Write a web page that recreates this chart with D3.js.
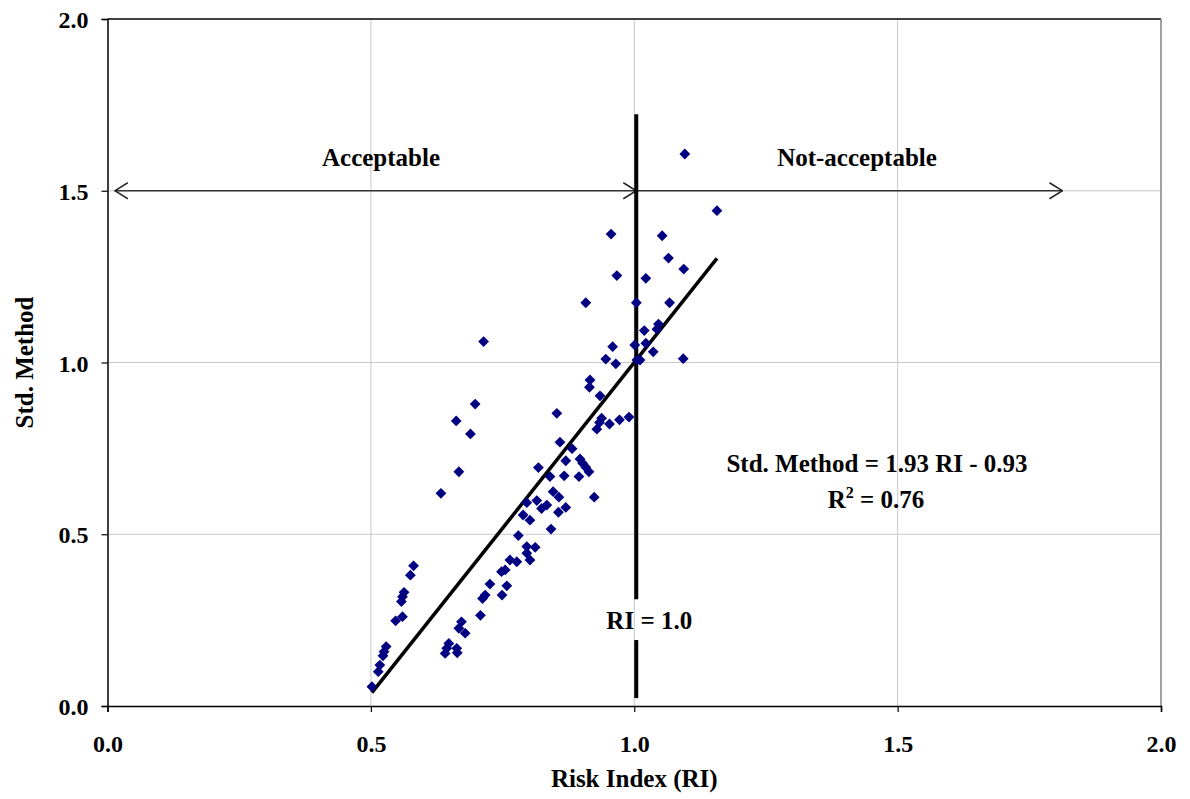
<!DOCTYPE html>
<html>
<head>
<meta charset="utf-8">
<script src="https://cdn.jsdelivr.net/npm/d3@7"></script>
<style>
    body { margin: 0; background: #fff; }
    svg text { font-family: "Liberation Serif", "Times New Roman", serif; font-weight: bold; fill: #000; }
</style>
</head>
<body>
<div id="chart"></div>
<script>
// Risk index (x) vs standard method (y)
const riValues = [
    0.502, 0.514, 0.517, 0.523, 0.525, 0.529, 0.547, 0.560, 0.558, 0.560, 0.563, 0.575, 0.581,
    0.633, 0.667, 0.662, 0.689, 0.698, 0.714,
    0.641, 0.644, 0.648, 0.663, 0.664, 0.667, 0.672, 0.679, 0.708, 0.712, 0.717, 0.726,
    0.749, 0.758, 0.748, 0.755, 0.764, 0.777, 0.780, 0.796, 0.796, 0.802, 0.812, 0.789,
    0.802, 0.796, 0.815, 0.824, 0.834, 0.818, 0.842, 0.840, 0.846, 0.857, 0.856, 0.870,
    0.867, 0.870, 0.859, 0.882, 0.853, 0.895, 0.897, 0.902, 0.908, 0.914, 0.924, 0.929,
    0.934, 0.938, 0.935, 0.915, 0.916, 0.953, 0.972, 0.990,
    0.908, 0.946, 0.965, 0.959, 0.956, 0.967, 1.001, 1.005, 1.011, 1.004, 1.019, 1.022,
    1.022, 1.036, 1.043, 1.046, 1.053, 1.065, 1.067, 1.093, 1.094, 1.096, 1.157
];
const stdValues = [
    0.056, 0.100, 0.119, 0.146, 0.158, 0.173, 0.248, 0.260, 0.304, 0.318, 0.331, 0.381, 0.408,
    0.619, 0.682, 0.830, 0.792, 0.879, 1.061,
    0.153, 0.168, 0.182, 0.168, 0.155, 0.226, 0.245, 0.212, 0.264, 0.313, 0.323, 0.355,
    0.323, 0.350, 0.391, 0.396, 0.425, 0.420, 0.496, 0.445, 0.464, 0.425, 0.462, 0.556,
    0.541, 0.592, 0.598, 0.575, 0.585, 0.694, 0.515, 0.668, 0.624, 0.608, 0.564, 0.578,
    0.670, 0.714, 0.768, 0.749, 0.852, 0.668, 0.719, 0.707, 0.695, 0.682, 0.608, 0.806,
    0.825, 0.838, 0.903, 0.928, 0.949, 0.821, 0.833, 0.841,
    1.174, 1.010, 0.996, 1.046, 1.374, 1.253, 1.051, 1.007, 1.007, 1.174, 1.093, 1.056,
    1.245, 1.031, 1.097, 1.112, 1.369, 1.304, 1.174, 1.011, 1.272, 1.607, 1.442
];

const xTicks = [0, 0.5, 1.0, 1.5, 2.0];
const yTicks = [0, 0.5, 1.0, 1.5, 2.0];

// regression: Std. Method = 1.93 RI - 0.93
const slope = 1.93, intercept = -0.93;
const refRI = 1.0;
const refTop = 1.723, gapTop = 0.311, gapBottom = 0.192, refBottom = 0.023;
const arrowY = 1.5, arrowLeft = 0.014, arrowRight = 1.813;

const width = 1190, height = 799;
const margin = {top: 19, right: 29, bottom: 93, left: 107.5};
const fontSize = 25;

const svg = d3.select("#chart").append("svg")
    .attr("width", width)
    .attr("height", height);

const x = d3.scaleLinear().domain([0, 2]).range([margin.left, width - margin.right]);
const y = d3.scaleLinear().domain([0, 2]).range([height - margin.bottom, margin.top]);

// grid
svg.append("g")
    .selectAll("line")
    .data(xTicks.slice(1, -1))
    .join("line")
    .attr("x1", d => x(d)).attr("x2", d => x(d))
    .attr("y1", y(0)).attr("y2", y(2))
    .attr("stroke", "#c8c8c8").attr("stroke-width", 1);
svg.append("g")
    .selectAll("line")
    .data(yTicks.slice(1, -1))
    .join("line")
    .attr("x1", x(0)).attr("x2", x(2))
    .attr("y1", d => y(d)).attr("y2", d => y(d))
    .attr("stroke", "#c8c8c8").attr("stroke-width", 1);

// plot border top / right
svg.append("line")
    .attr("x1", x(0)).attr("x2", x(2)).attr("y1", y(2)).attr("y2", y(2))
    .attr("stroke", "#000").attr("stroke-width", 1.5);
svg.append("line")
    .attr("x1", x(2)).attr("x2", x(2)).attr("y1", y(2)).attr("y2", y(0))
    .attr("stroke", "#808080").attr("stroke-width", 1.5);

// axes
const xAxis = svg.append("g")
    .attr("transform", `translate(0,${y(0)})`)
    .call(d3.axisBottom(x).tickValues(xTicks).tickFormat(d3.format(".1f")).tickSize(6).tickPadding(23));
const yAxis = svg.append("g")
    .attr("transform", `translate(${x(0)},0)`)
    .call(d3.axisLeft(y).tickValues(yTicks).tickFormat(d3.format(".1f")).tickSize(6).tickPadding(13));
[xAxis, yAxis].forEach(g => {
    g.select(".domain").attr("stroke", "#000").attr("stroke-width", 1.5);
    g.selectAll(".tick line").attr("stroke", "#000").attr("stroke-width", 1.2);
    g.selectAll(".tick text")
        .attr("font-family", "Liberation Serif, Times New Roman, serif")
        .attr("font-size", 24).attr("font-weight", "bold").attr("fill", "#000");
});
yAxis.selectAll(".tick text").attr("dy", "0.36em");

// axis titles
svg.append("text")
    .attr("x", (x(0) + x(2)) / 2)
    .attr("y", 787)
    .attr("text-anchor", "middle")
    .attr("font-size", fontSize)
    .text("Risk Index (RI)");
svg.append("text")
    .attr("transform", `translate(33,${(y(0) + y(2)) / 2}) rotate(-90)`)
    .attr("text-anchor", "middle")
    .attr("font-size", fontSize)
    .text("Std. Method");

// arrow markers
const defs = svg.append("defs");
defs.append("marker")
    .attr("id", "openArrow")
    .attr("viewBox", "0 0 14 18")
    .attr("refX", 13).attr("refY", 9)
    .attr("markerWidth", 14).attr("markerHeight", 18)
    .attr("markerUnits", "userSpaceOnUse")
    .attr("orient", "auto-start-reverse")
    .append("path")
    .attr("d", "M0,1 L13,9 L0,17")
    .attr("fill", "none")
    .attr("stroke", "#222")
    .attr("stroke-width", 1.5);

svg.append("line")
    .attr("x1", x(arrowLeft)).attr("x2", x(refRI) + 2)
    .attr("y1", y(arrowY)).attr("y2", y(arrowY))
    .attr("stroke", "#333").attr("stroke-width", 1.6)
    .attr("marker-start", "url(#openArrow)")
    .attr("marker-end", "url(#openArrow)");
svg.append("line")
    .attr("x1", x(refRI) + 2).attr("x2", x(arrowRight))
    .attr("y1", y(arrowY)).attr("y2", y(arrowY))
    .attr("stroke", "#333").attr("stroke-width", 1.6)
    .attr("marker-end", "url(#openArrow)");

svg.append("text")
    .attr("x", 381).attr("y", 166)
    .attr("text-anchor", "middle").attr("font-size", fontSize)
    .text("Acceptable");
svg.append("text")
    .attr("x", 857).attr("y", 166)
    .attr("text-anchor", "middle").attr("font-size", fontSize)
    .text("Not-acceptable");

// RI = 1.0 reference line (broken for label)
[[refTop, gapTop], [gapBottom, refBottom]].forEach(([a, b]) => {
    svg.append("line")
        .attr("x1", x(refRI) + 2).attr("x2", x(refRI) + 2)
        .attr("y1", y(a)).attr("y2", y(b))
        .attr("stroke", "#000").attr("stroke-width", 4);
});
svg.append("text")
    .attr("x", x(refRI) + 15).attr("y", 629)
    .attr("text-anchor", "middle").attr("font-size", fontSize)
    .text("RI = 1.0");

// trend line
const xMin = d3.min(riValues), xMax = d3.max(riValues);
svg.append("line")
    .attr("x1", x(xMin)).attr("y1", y(slope * xMin + intercept))
    .attr("x2", x(xMax)).attr("y2", y(slope * xMax + intercept))
    .attr("stroke", "#000").attr("stroke-width", 3.5);

// points
const points = riValues.map((ri, i) => ({ri: ri, sm: stdValues[i]}));
svg.append("g")
    .selectAll("path")
    .data(points)
    .join("path")
    .attr("transform", d => `translate(${x(d.ri)},${y(d.sm)})`)
    .attr("d", "M0,-5.4 L5.4,0 L0,5.4 L-5.4,0 Z")
    .attr("fill", "#000080");

// equation
svg.append("text")
    .attr("x", 877).attr("y", 472)
    .attr("text-anchor", "middle").attr("font-size", fontSize)
    .text("Std. Method = 1.93 RI - 0.93");
const r2 = svg.append("text")
    .attr("x", 876).attr("y", 508)
    .attr("text-anchor", "middle").attr("font-size", fontSize);
r2.append("tspan").text("R");
r2.append("tspan").attr("font-size", 16).attr("dy", -10).text("2");
r2.append("tspan").attr("dy", 10).text(" = 0.76");
</script>
</body>
</html>
